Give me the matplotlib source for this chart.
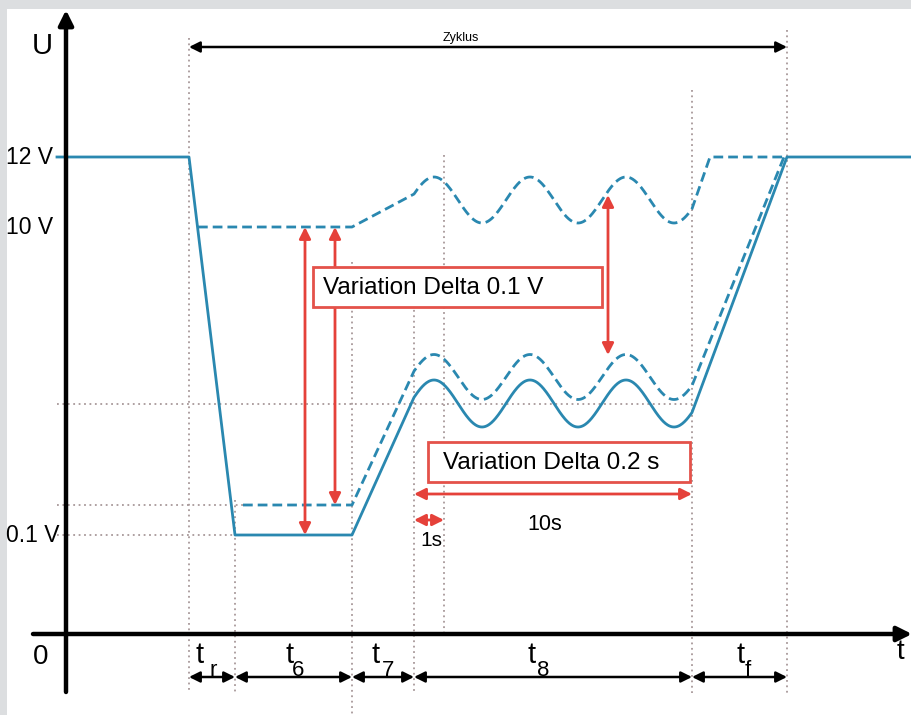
import numpy as np
import matplotlib
matplotlib.use("Agg")
import matplotlib.pyplot as plt
from matplotlib.patches import Rectangle

plt.rcParams['font.family'] = ['Liberation Sans', 'DejaVu Sans']

# Schema in Bildkoordinaten (x nach rechts, y nach unten)
x_phase = [189, 235, 352, 414, 692, 787]   # Grenzen t_r, t6, t7, t8, t_f
phase_sub = ["r", "6", "7", "8", "f"]
x_1s = 444
level_labels = ["12 V", "10 V", "0.1 V"]
level_y = [157, 227, 535]
y_dash_low = 505
y_wave_mid = 404

# Schwingung in t8: Mitte, Amplitude (durchgezogen, unten gestrichelt, oben gestrichelt)
wave_mid = [403.5, 377, 200]
wave_amp = [23.5, 22.5, 23]
wave_period = 96
wave_peak = 434

blue = "#2a88b0"
red = "#e5413a"
dot = "#a8999a"

fig = plt.figure(figsize=(9.12, 7.15), dpi=100, facecolor="#dcdee0")
ax = fig.add_axes([7/912, 0, 905/912, 706/715])
ax.set_xlim(7, 912)
ax.set_ylim(715, 9)
ax.set_xticks([])
ax.set_yticks([])
for s in ax.spines.values():
    s.set_visible(False)

# gepunktete Hilfslinien
vlines = [(x_phase[0], 38, 693), (x_phase[1], 500, 693), (x_phase[2], 262, 715),
          (x_phase[3], 272, 693), (x_1s, 155, 634), (x_phase[4], 90, 693),
          (x_phase[5], 30, 693)]
for x, y0, y1 in vlines:
    ax.plot([x, x], [y0, y1], color=dot, lw=1.3, ls=(0, (1, 2)), zorder=1)
hlines = [(y_wave_mid, 57, x_phase[4]), (y_dash_low, 57, 243), (level_y[2], 57, x_phase[1])]
for y, x0, x1 in hlines:
    ax.plot([x0, x1], [y, y], color=dot, lw=1.3, ls=(0, (1, 2)), zorder=1)

# Kurven
xw = np.linspace(x_phase[3], x_phase[4], 400)


def wave(i):
    return wave_mid[i] - wave_amp[i] * np.cos(2 * np.pi * (xw - wave_peak) / wave_period)


sx = np.concatenate([[57, x_phase[0], x_phase[1], x_phase[2]], xw, [x_phase[5], 912]])
sy = np.concatenate([[level_y[0], level_y[0], level_y[2], level_y[2]], wave(0),
                     [level_y[0], level_y[0]]])
ax.plot(sx, sy, color=blue, lw=2, zorder=3, solid_joinstyle="round")

dx = np.concatenate([[243, x_phase[2]], xw, [784]])
dy = np.concatenate([[y_dash_low, y_dash_low], wave(1), [level_y[0]]])
ax.plot(dx, dy, color=blue, lw=2, ls=(0, (3.5, 1.8)), zorder=3)

ux = np.concatenate([[198, x_phase[2]], xw, [710, x_phase[5]]])
uy = np.concatenate([[level_y[1], level_y[1]], wave(2), [level_y[0], level_y[0]]])
ax.plot(ux, uy, color=blue, lw=2, ls=(0, (3.5, 1.8)), zorder=3)

# Achsen
ax.annotate("", xy=(66, 10), xytext=(66, 692),
            arrowprops=dict(arrowstyle="-|>", color="black", lw=3.2,
                            mutation_scale=22, shrinkA=0, shrinkB=0), zorder=5)
ax.annotate("", xy=(912, 634), xytext=(33, 634),
            arrowprops=dict(arrowstyle="-|>", color="black", lw=3.2,
                            mutation_scale=22, shrinkA=0, shrinkB=0), zorder=5)
ax.text(42, 46, "U", fontsize=21, ha="center", va="center")
ax.text(41, 657, "0", fontsize=20, ha="center", va="center")
ax.text(900, 652, "t", fontsize=20, ha="center", va="center")
for lab, y in zip(level_labels, level_y):
    ax.text(6, y, lab, fontsize=16.5, ha="left", va="center")

# schwarze Maßpfeile
black_arrow = dict(arrowstyle="<|-|>", color="black", lw=1.8, mutation_scale=16,
                   shrinkA=0, shrinkB=0)
ax.annotate("", xy=(x_phase[0], 47), xytext=(x_phase[5], 47), arrowprops=black_arrow)
ax.text(461, 38, "Zyklus", fontsize=9, ha="center", va="center")
t_pos = [(200, 213), (290, 298), (376, 388), (532, 543), (741, 748)]
for i, sub in enumerate(phase_sub):
    ax.annotate("", xy=(x_phase[i], 677), xytext=(x_phase[i + 1], 677),
                arrowprops=black_arrow)
    ax.text(t_pos[i][0], 655, "t", fontsize=21, ha="center", va="center")
    ax.text(t_pos[i][1], 670, sub, fontsize=16, ha="center", va="center")

# rote Pfeile
red_arrow = dict(arrowstyle="<|-|>", color=red, lw=2, mutation_scale=17,
                 shrinkA=0, shrinkB=0)
ax.annotate("", xy=(305, level_y[1]), xytext=(305, level_y[2]), arrowprops=red_arrow)
ax.annotate("", xy=(335, level_y[1]), xytext=(335, y_dash_low), arrowprops=red_arrow)
ax.annotate("", xy=(608, 195), xytext=(608, 355), arrowprops=red_arrow)
ax.annotate("", xy=(x_phase[3], 494), xytext=(x_phase[4], 494), arrowprops=red_arrow)
ax.annotate("", xy=(x_phase[3], 520), xytext=(x_1s, 520), arrowprops=red_arrow)
ax.text(431, 540, "1s", fontsize=15, ha="center", va="center")
ax.text(545, 525, "10s", fontsize=15.5, ha="center", va="center")

# Textkästen
boxes = [(313, 267, 602, 307, "Variation Delta 0.1 V", 323),
         (428, 442, 690, 482, "Variation Delta 0.2 s", 443)]
for x0, y0, x1, y1, txt, tx in boxes:
    ax.add_patch(Rectangle((x0, y0), x1 - x0, y1 - y0, facecolor="white",
                           edgecolor="#e4524a", lw=2, zorder=6))
    ax.text(tx, (y0 + y1) / 2 + 1, txt, fontsize=17.5, ha="left", va="center", zorder=7)

fig.savefig("out.png", dpi=100, facecolor=fig.get_facecolor())
